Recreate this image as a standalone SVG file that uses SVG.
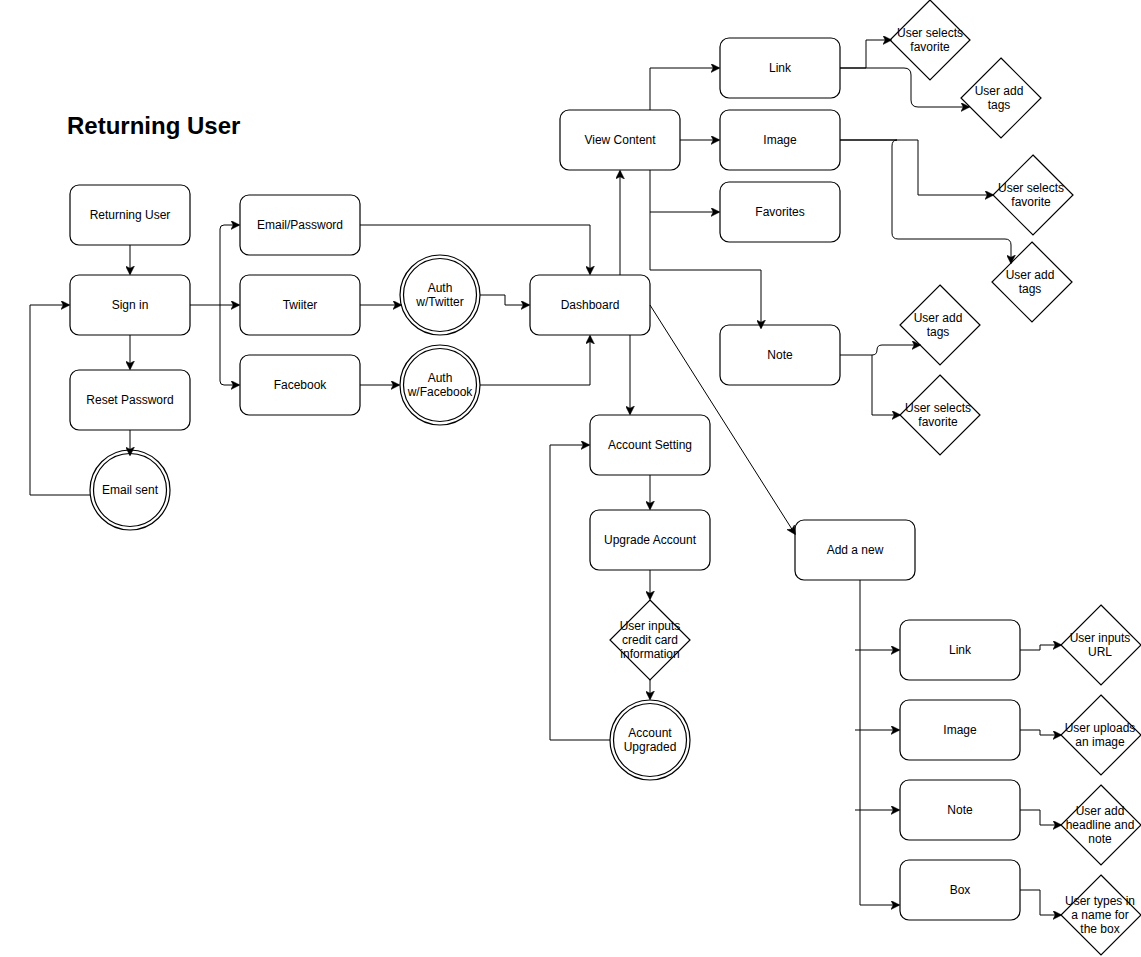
<svg xmlns="http://www.w3.org/2000/svg" width="1141" height="957" viewBox="0 0 1141 957">
  <style>
    .box { fill: #ffffff; stroke: #000000; stroke-width: 1.2; }
    .dia { fill: #ffffff; stroke: #000000; stroke-width: 1.2; }
    .edge { fill: none; stroke: #000000; stroke-width: 1; }
    text { font-family: "Liberation Sans", Arial, sans-serif; font-size: 12px; fill: #000000; text-anchor: middle; dominant-baseline: central; }
    .title { font-size: 24px; font-weight: bold; text-anchor: start; dominant-baseline: alphabetic; }
  </style>
  <defs>
    <marker id="arrow" viewBox="0 0 10 10" refX="9" refY="5" markerWidth="9" markerHeight="9" markerUnits="userSpaceOnUse" orient="auto">
      <path d="M0,0 L10,5 L0,10 L2.5,5 z" fill="#000000" stroke="#000000" stroke-width="0.5"/>
    </marker>
  </defs>

  <rect width="1141" height="957" fill="#ffffff"/>

  <text class="title" x="67" y="134">Returning User</text>

  <!-- sign-in flow -->
  <g id="returning-user"><rect class="box" x="70" y="185" width="120" height="60" rx="9"/><text x="130" y="215">Returning User</text></g>
  <g id="sign-in"><rect class="box" x="70" y="275" width="120" height="60" rx="9"/><text x="130" y="305">Sign in</text></g>
  <g id="reset-password"><rect class="box" x="70" y="370" width="120" height="60" rx="9"/><text x="130" y="400">Reset Password</text></g>
  <g id="email-sent"><circle class="box" cx="130" cy="490" r="40"/><circle class="box" cx="130" cy="490" r="36.5"/><text x="130" y="490">Email sent</text></g>

  <g id="email-password"><rect class="box" x="240" y="195" width="120" height="60" rx="9"/><text x="300" y="225">Email/Password</text></g>
  <g id="twitter"><rect class="box" x="240" y="275" width="120" height="60" rx="9"/><text x="300" y="305">Twiiter</text></g>
  <g id="facebook"><rect class="box" x="240" y="355" width="120" height="60" rx="9"/><text x="300" y="385">Facebook</text></g>
  <g id="auth-twitter"><circle class="box" cx="440" cy="295" r="40"/><circle class="box" cx="440" cy="295" r="36.5"/><text x="440" y="288">Auth</text><text x="440" y="302">w/Twitter</text></g>
  <g id="auth-facebook"><circle class="box" cx="440" cy="385" r="40"/><circle class="box" cx="440" cy="385" r="36.5"/><text x="440" y="378">Auth</text><text x="440" y="392">w/Facebook</text></g>

  <g id="dashboard"><rect class="box" x="530" y="275" width="120" height="60" rx="9"/><text x="590" y="305">Dashboard</text></g>

  <!-- viewing content -->
  <g id="view-content"><rect class="box" x="560" y="110" width="120" height="60" rx="9"/><text x="620" y="140">View Content</text></g>
  <g id="view-link"><rect class="box" x="720" y="38" width="120" height="60" rx="9"/><text x="780" y="68">Link</text></g>
  <g id="view-image"><rect class="box" x="720" y="110" width="120" height="60" rx="9"/><text x="780" y="140">Image</text></g>
  <g id="view-favorites"><rect class="box" x="720" y="182" width="120" height="60" rx="9"/><text x="780" y="212">Favorites</text></g>
  <g id="view-note"><rect class="box" x="720" y="325" width="120" height="60" rx="9"/><text x="780" y="355">Note</text></g>

  <g id="link-favorite"><polygon class="dia" points="930,0 970,40 930,80 890,40"/><text x="930" y="33">User selects</text><text x="930" y="47">favorite</text></g>
  <g id="link-tags"><polygon class="dia" points="1001,58 1041,98 1001,138 961,98"/><text x="999" y="91">User add</text><text x="999" y="105">tags</text></g>
  <g id="image-favorite"><polygon class="dia" points="1033,155 1073,195 1033,235 993,195"/><text x="1031" y="188">User selects</text><text x="1031" y="202">favorite</text></g>
  <g id="image-tags"><polygon class="dia" points="1032,242 1072,282 1032,322 992,282"/><text x="1030" y="275">User add</text><text x="1030" y="289">tags</text></g>
  <g id="note-tags"><polygon class="dia" points="940,285 980,325 940,365 900,325"/><text x="938" y="318">User add</text><text x="938" y="332">tags</text></g>
  <g id="note-favorite"><polygon class="dia" points="940,375 980,415 940,455 900,415"/><text x="938" y="408">User selects</text><text x="938" y="422">favorite</text></g>

  <!-- account -->
  <g id="account-setting"><rect class="box" x="590" y="415" width="120" height="60" rx="9"/><text x="650" y="445">Account Setting</text></g>
  <g id="upgrade-account"><rect class="box" x="590" y="510" width="120" height="60" rx="9"/><text x="650" y="540">Upgrade Account</text></g>
  <g id="credit-card"><polygon class="dia" points="650,600 690,640 650,680 610,640"/><text x="650" y="626">User inputs</text><text x="650" y="640">credit card</text><text x="650" y="654">information</text></g>
  <g id="account-upgraded"><circle class="box" cx="650" cy="740" r="40"/><circle class="box" cx="650" cy="740" r="36.5"/><text x="650" y="733">Account</text><text x="650" y="747">Upgraded</text></g>

  <!-- adding content -->
  <g id="add-new"><rect class="box" x="795" y="520" width="120" height="60" rx="9"/><text x="855" y="550">Add a new</text></g>
  <g id="add-link"><rect class="box" x="900" y="620" width="120" height="60" rx="9"/><text x="960" y="650">Link</text></g>
  <g id="add-image"><rect class="box" x="900" y="700" width="120" height="60" rx="9"/><text x="960" y="730">Image</text></g>
  <g id="add-note"><rect class="box" x="900" y="780" width="120" height="60" rx="9"/><text x="960" y="810">Note</text></g>
  <g id="add-box"><rect class="box" x="900" y="860" width="120" height="60" rx="9"/><text x="960" y="890">Box</text></g>

  <g id="input-url"><polygon class="dia" points="1101,605 1141,645 1101,685 1061,645"/><text x="1100" y="638">User inputs</text><text x="1100" y="652">URL</text></g>
  <g id="upload-image"><polygon class="dia" points="1101,695 1141,735 1101,775 1061,735"/><text x="1100" y="728">User uploads</text><text x="1100" y="742">an image</text></g>
  <g id="headline-note"><polygon class="dia" points="1101,785 1141,825 1101,865 1061,825"/><text x="1100" y="811">User add</text><text x="1100" y="825">headline and</text><text x="1100" y="839">note</text></g>
  <g id="name-box"><polygon class="dia" points="1101,875 1141,915 1101,955 1061,915"/><text x="1100" y="901">User types in</text><text x="1100" y="915">a name for</text><text x="1100" y="929">the box</text></g>

  <!-- connectors, drawn over the shapes so arrowheads stay visible -->
  <g id="edges" class="edges">
    <path class="edge" d="M130,245 L130,274" marker-end="url(#arrow)"/>
    <path class="edge" d="M130,335 L130,369" marker-end="url(#arrow)"/>
    <path class="edge" d="M130,430 L130,455" marker-end="url(#arrow)"/>
    <path class="edge" d="M90.3,495 L30,495 L30,305 L69,305" marker-end="url(#arrow)"/>
    <path class="edge" d="M190,305 L239,305" marker-end="url(#arrow)"/>
    <path class="edge" d="M220,305 L220,229 Q220,225 224,225 L239,225" marker-end="url(#arrow)"/>
    <path class="edge" d="M220,305 L220,381 Q220,385 224,385 L239,385" marker-end="url(#arrow)"/>
    <path class="edge" d="M360,225 L590,225 L590,274" marker-end="url(#arrow)"/>
    <path class="edge" d="M360,305 L401,305" marker-end="url(#arrow)"/>
    <path class="edge" d="M480,295 L505,295 L505,305 L529,305" marker-end="url(#arrow)"/>
    <path class="edge" d="M360,385 L399,385" marker-end="url(#arrow)"/>
    <path class="edge" d="M480,385 L590,385 L590,336" marker-end="url(#arrow)"/>
    <path class="edge" d="M620,275 L620,171" marker-end="url(#arrow)"/>
    <path class="edge" d="M630,335 L630,414" marker-end="url(#arrow)"/>
    <path class="edge" d="M650,305 L795,534" marker-end="url(#arrow)"/>
    <path class="edge" d="M650,110 L650,68 L719,68" marker-end="url(#arrow)"/>
    <path class="edge" d="M680,140 L719,140" marker-end="url(#arrow)"/>
    <path class="edge" d="M650,170 L650,270 L761,270 L761,328" marker-end="url(#arrow)"/>
    <path class="edge" d="M650,212 L719,212" marker-end="url(#arrow)"/>
    <path class="edge" d="M840,68 L866,68 L866,40 L891,40" marker-end="url(#arrow)"/>
    <path class="edge" d="M840,68 L904,68 Q911,68 911,75 L911,100 Q911,107 918,107 L969,107" marker-end="url(#arrow)"/>
    <path class="edge" d="M840,140 L918,140 L918,195 L993,195" marker-end="url(#arrow)"/>
    <path class="edge" d="M840,140 L897,140 Q892,140 892,146 L892,233 Q892,239 898,239 L1005,239 Q1011,239 1011,245 L1011,263" marker-end="url(#arrow)"/>
    <path class="edge" d="M840,355 L872,355 Q877,355 877,350 Q877,345 882,345 L920,345" marker-end="url(#arrow)"/>
    <path class="edge" d="M872,355 L872,415 L900,415" marker-end="url(#arrow)"/>
    <path class="edge" d="M650,475 L650,509" marker-end="url(#arrow)"/>
    <path class="edge" d="M650,570 L650,599" marker-end="url(#arrow)"/>
    <path class="edge" d="M650,680 L650,699" marker-end="url(#arrow)"/>
    <path class="edge" d="M610,740 L550,740 L550,445 L589,445" marker-end="url(#arrow)"/>
    <path class="edge" d="M860,580 L860,905 L899,905" marker-end="url(#arrow)"/>
    <path class="edge" d="M855,650 L899,650" marker-end="url(#arrow)"/>
    <path class="edge" d="M855,730 L899,730" marker-end="url(#arrow)"/>
    <path class="edge" d="M855,810 L899,810" marker-end="url(#arrow)"/>
    <path class="edge" d="M1020,650 L1040,650 L1040,645 L1061,645" marker-end="url(#arrow)"/>
    <path class="edge" d="M1020,730 L1040,730 L1040,735 L1061,735" marker-end="url(#arrow)"/>
    <path class="edge" d="M1020,810 L1040,810 L1040,825 L1061,825" marker-end="url(#arrow)"/>
    <path class="edge" d="M1020,890 L1040,890 L1040,915 L1061,915" marker-end="url(#arrow)"/>
  </g>
</svg>
